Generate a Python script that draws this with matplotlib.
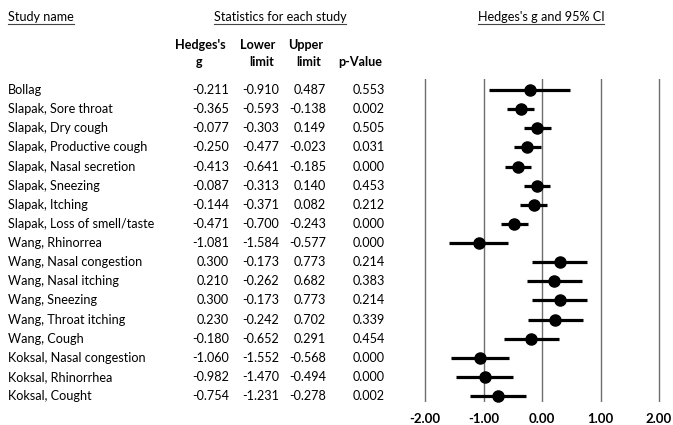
import matplotlib
matplotlib.use("Agg")
import matplotlib.pyplot as plt
from matplotlib.transforms import blended_transform_factory

plt.rcParams['font.family'] = ['Lato', 'DejaVu Sans']

studies = ["Bollag", "Slapak, Sore throat", "Slapak, Dry cough",
           "Slapak, Productive cough", "Slapak, Nasal secretion",
           "Slapak, Sneezing", "Slapak, Itching", "Slapak, Loss of smell/taste",
           "Wang, Rhinorrea", "Wang, Nasal congestion", "Wang, Nasal itching",
           "Wang, Sneezing", "Wang, Throat itching", "Wang, Cough",
           "Koksal, Nasal congestion", "Koksal, Rhinorrhea", "Koksal, Cought"]
hedges_g = [-0.211, -0.365, -0.077, -0.250, -0.413, -0.087, -0.144, -0.471,
            -1.081, 0.300, 0.210, 0.300, 0.230, -0.180, -1.060, -0.982, -0.754]
lower = [-0.910, -0.593, -0.303, -0.477, -0.641, -0.313, -0.371, -0.700,
         -1.584, -0.173, -0.262, -0.173, -0.242, -0.652, -1.552, -1.470, -1.231]
upper = [0.487, -0.138, 0.149, -0.023, -0.185, 0.140, 0.082, -0.243,
         -0.577, 0.773, 0.682, 0.773, 0.702, 0.291, -0.568, -0.494, -0.278]
p_values = [0.553, 0.002, 0.505, 0.031, 0.000, 0.453, 0.212, 0.000,
            0.000, 0.214, 0.383, 0.214, 0.339, 0.454, 0.000, 0.000, 0.002]
axis_ticks = [-2, -1, 0, 1, 2]

W, H = 673, 425
fig = plt.figure(figsize=(W / 100, H / 100), dpi=100)

# forest axes: -2..2 maps to px 425..659, rows span px 79..402
unit = (659 - 425) / 4
x0 = 425 - 0.2 * unit
x1 = 659 + 0.2 * unit
ax = fig.add_axes([x0 / W, 1 - 402 / H, (x1 - x0) / W, (402 - 79) / H])
n = len(studies)
row_h = (396 - 90) / (n - 1)
ax.set_xlim(-2.2, 2.2)
ax.set_ylim(n - 1 + (402 - 396) / row_h, -(90 - 79) / row_h)
for t in axis_ticks:
    ax.axvline(t, color='#6e6e6e', lw=1.0, zorder=1)
rows = list(range(n))
ax.hlines(rows, lower, upper, color='black', lw=2.3, zorder=2)
ax.plot(hedges_g, rows, 'o', color='black', ms=8, zorder=3)
for s in ax.spines.values():
    s.set_visible(False)
ax.set_yticks([])
ax.set_xticks(axis_ticks)
ax.set_xticklabels([f"{t:.2f}" for t in axis_ticks], fontsize=9.5, fontweight='bold')
ax.tick_params(axis='x', length=0, pad=8)

tr = blended_transform_factory(fig.transFigure, ax.transData)
fs = 9.1

def px(x):
    return x / W

for i, name in enumerate(studies):
    fig.text(px(8), i, name, transform=tr, fontsize=fs, va='center', ha='left')
    fig.text(px(229), i, f"{hedges_g[i]:.3f}", transform=tr, fontsize=fs, va='center', ha='right')
    fig.text(px(279), i, f"{lower[i]:.3f}", transform=tr, fontsize=fs, va='center', ha='right')
    fig.text(px(326), i, f"{upper[i]:.3f}", transform=tr, fontsize=fs, va='center', ha='right')
    fig.text(px(385), i, f"{p_values[i]:.3f}", transform=tr, fontsize=fs, va='center', ha='right')

# column headers
def ftext(x, y, s, **kw):
    return fig.text(px(x), 1 - y / H, s, fontsize=fs, va='center', **kw)

ftext(200, 45, "Hedges's", ha='center', fontweight='bold')
ftext(199, 62, "g", ha='center', fontweight='bold')
ftext(258, 45, "Lower", ha='center', fontweight='bold')
ftext(262, 62, "limit", ha='center', fontweight='bold')
ftext(306, 45, "Upper", ha='center', fontweight='bold')
ftext(309, 62, "limit", ha='center', fontweight='bold')
ftext(360, 62, "p-Value", ha='center', fontweight='bold')

# underlined titles
def underlined(x, y, s, ha):
    t = ftext(x, y, s, ha=ha)
    fig.canvas.draw()
    bb = t.get_window_extent()
    yl = bb.y0 - 1
    fig.add_artist(plt.Line2D([bb.x0 / W, bb.x1 / W], [yl / H, yl / H],
                              color='#444444', lw=0.8))

underlined(8, 17, "Study name", 'left')
underlined(280, 17, "Statistics for each study", 'center')
underlined(541, 17, "Hedges's g and 95% CI", 'center')

fig.savefig("out.png", dpi=100)
